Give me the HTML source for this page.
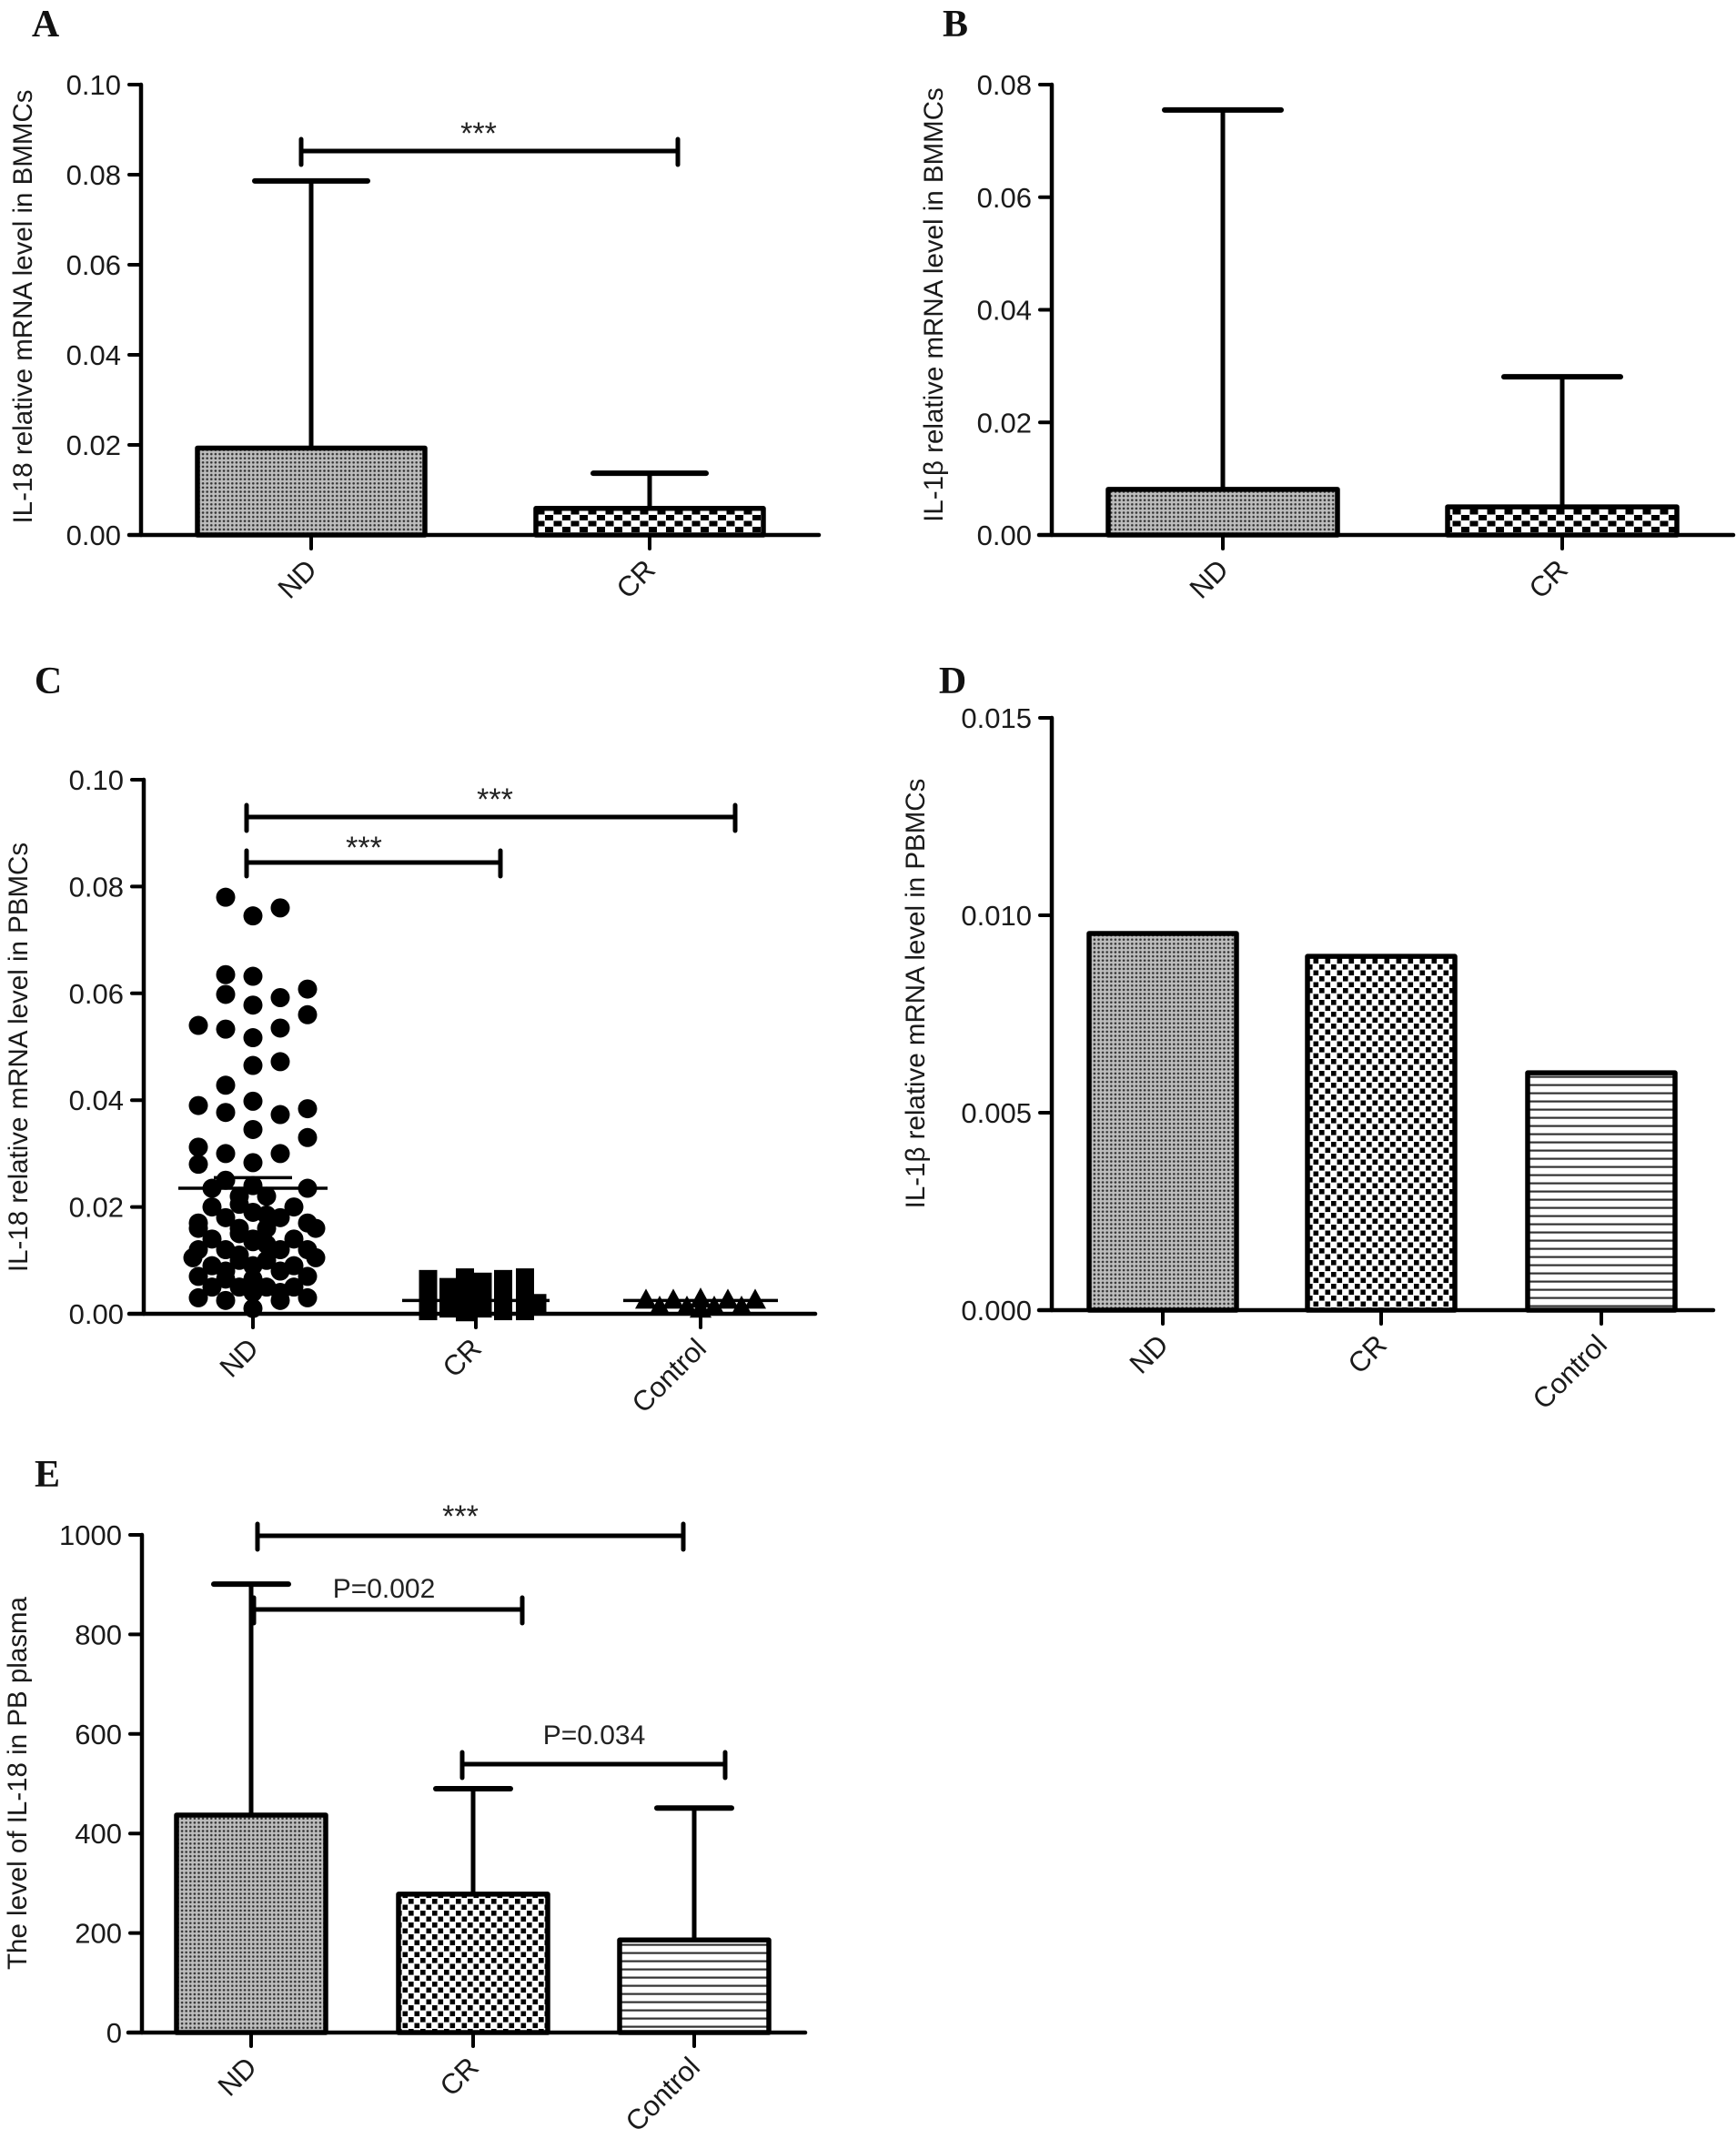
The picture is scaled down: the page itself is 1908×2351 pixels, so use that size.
<!DOCTYPE html>
<html><head><meta charset="utf-8"><style>
html,body{margin:0;padding:0;background:#fff;}
svg{display:block;font-family:"Liberation Sans",Arial,sans-serif;}
.tick{font-size:31px;fill:#1a1a1a;}
.ttl{font-size:29.5px;fill:#1a1a1a;}
.plet{font-family:"Liberation Serif",serif;font-weight:bold;font-size:42px;fill:#111;}
</style></head><body>
<svg id="fig" width="1908" height="2351" viewBox="0 0 1908 2351" xmlns="http://www.w3.org/2000/svg">
<defs>
<pattern id="pFine" width="4.6" height="4.6" patternUnits="userSpaceOnUse"><rect width="4.6" height="4.6" fill="#bdbdbd"/><circle cx="2.3" cy="2.3" r="1.3" fill="#333"/></pattern>
<pattern id="pCheck" width="13" height="13" patternUnits="userSpaceOnUse"><rect width="13" height="13" fill="#fff"/><rect x="0.5" y="0.5" width="5.6" height="5.6" fill="#000"/><rect x="7" y="7" width="5.6" height="5.6" fill="#000"/></pattern>
<pattern id="pCheckWide" width="19" height="13" patternUnits="userSpaceOnUse"><rect width="19" height="13" fill="#fff"/><rect x="0.5" y="0.5" width="9" height="6" fill="#000"/><rect x="10" y="7" width="9" height="6" fill="#000"/></pattern>
<pattern id="pStripe" width="9" height="9" patternUnits="userSpaceOnUse"><rect width="9" height="9" fill="#fff"/><rect y="3.5" width="9" height="2.2" fill="#333"/></pattern>
</defs>
<g id="root"></g>
</svg>
<script>
// ---- Panel A data ----
const aCats = ["ND", "CR"];
const aVals = [0.0193, 0.0059];
const aErr = [0.0786, 0.0137];
const aTicks = ["0.00", "0.02", "0.04", "0.06", "0.08", "0.10"];
// ---- Panel B data ----
const bCats = ["ND", "CR"];
const bVals = [0.0081, 0.0050];
const bErr = [0.0755, 0.0281];
const bTicks = ["0.00", "0.02", "0.04", "0.06", "0.08"];
// ---- Panel C data ----
const cCats = ["ND", "CR", "Control"];
const cTicks = ["0.00", "0.02", "0.04", "0.06", "0.08", "0.10"];
const cMeans = [0.0235, 0.0025, 0.0025];
const cSem = [0.002, 0.0003, 0.0002];
const ndVals = [0.078,0.0745,0.076,0.0635,0.0632,0.0598,0.0578,0.0592,0.0608,0.056,0.054,0.0533,0.0517,0.0535,0.0465,0.0472,0.0428,0.039,0.0398,0.0377,0.0373,0.0384,0.0345,0.033,0.0312,0.030,0.030,0.028,0.0283,
 0.025,0.024,0.022,0.022,0.020,0.020,0.0235,0.0235,0.017,0.018,0.019,0.018,0.017,0.016,0.016,0.016,0.016,0.014,0.014,0.014,0.012,0.012,0.012,0.012,0.0105,0.010,0.010,0.0105,0.009,0.009,0.009,0.008,0.008,0.007,0.0065,0.007,0.005,0.005,0.005,0.005,0.003,0.0025,0.004,0.0025,0.003,0.001,0.015,0.013,0.011,0.0185,0.0205,0.0065,0.004,0.0135];
const ndSlot = [-2,0,2,-2,0,-2,0,2,4,4,-4,-2,0,2,0,2,-2,-4,0,-2,2,4,0,4,-4,-2,2,-4,0,
 -2,0,-1,1,-3,3,-3,4,-4,-2,0,2,4,-4,-1,1,4.6,-3,0,3,-4,-2,2,4,-4.4,-1,1,4.6,-3,0,3,-2,2,-4,0,4,-3,-1,1,3,-4,-2,0,2,4,0,-1,1,-1,1,-1,-2,2,0];
const crVals = [0.0065,0.004,0.002,0.0005,0.005,0.002,0.001,0.0068,0.0045,0.002,0.0003,0.006,0.003,0.001,0.0065,0.004,0.002,0.0005,0.0068,0.004,0.0015,0.0005,0.002];
const crSlot = [-3.5,-3.5,-3.5,-3.5,-2,-2,-2,-0.8,-0.8,-0.8,-0.8,0.5,0.5,0.5,2,2,2,2,3.6,3.6,3.6,3.6,4.5];
const ctVals = [0.0025,0.0025,0.0027,0.0025,0.0025,0.0012,0.0012,0.0012,0.0012,0.0008];
const ctSlot = [-4,-2,0,2,4,-3,-1,1,3,0];
// ---- Panel D data ----
const dCats = ["ND", "CR", "Control"];
const dVals = [0.00954, 0.00896, 0.00601];
const dTicks = ["0.000", "0.005", "0.010", "0.015"];
// ---- Panel E data ----
const eCats = ["ND", "CR", "Control"];
const eVals = [437, 278, 186];
const eErr = [901, 490, 451];
const eTicks = ["0", "200", "400", "600", "800", "1000"];

const NS = "http://www.w3.org/2000/svg";
const root = document.getElementById("root");
function mk(tag, attrs, parent, text) {
  const e = document.createElementNS(NS, tag);
  for (const k in attrs) e.setAttribute(k, attrs[k]);
  if (text !== undefined) e.textContent = text;
  (parent || root).appendChild(e);
  return e;
}
function line(g, x1, y1, x2, y2, w) {
  return mk("line", {x1: x1, y1: y1, x2: x2, y2: y2, stroke: "#000", "stroke-width": w || 5, "stroke-linecap": "round"}, g);
}

function axes(cfg) {
  const g = mk("g", {});
  
  
  const y = v => cfg.y0 - (v / cfg.max) * (cfg.y0 - cfg.yTop);
  line(g, cfg.ax, cfg.yTop, cfg.ax, cfg.y0, 4.5);
  line(g, cfg.xStart, cfg.y0, cfg.xEnd, cfg.y0, 4.5);
  cfg.ticks.forEach((t, i) => {
    const v = parseFloat(t);
    const yy = y(v);
    line(g, cfg.ax - 13, yy, cfg.ax, yy, 4);
    const tx = mk("text", {x: cfg.ax - 22, y: yy + 11, "text-anchor": "end", class: "tick"}, g, t);
    
    
  });
  cfg.centers.forEach((cx, i) => {
    line(g, cx, cfg.y0, cx, cfg.y0 + 15, 4);
    const lx = cx + 8, ly = cfg.y0 + 40;
    const tx = mk("text", {x: lx, y: ly, "text-anchor": "end", class: "tick", transform: "rotate(-45 " + lx + " " + ly + ")"}, g, cfg.cats[i]);
    
    
  });
  const tt = mk("text", {x: cfg.titleX, y: cfg.titleY, "text-anchor": "middle", class: "ttl", transform: "rotate(-90 " + cfg.titleX + " " + cfg.titleY + ")"}, g);
  
  
  tt.textContent = cfg.title;
  const pl = mk("text", {x: cfg.letter[0], y: cfg.letter[1], "text-anchor": "middle", class: "plet"}, g, cfg.letterText);
  
  
  return y;
}

function bars(cfg, y, vals, errs, fills, halfW, capHalf) {
  vals.forEach((v, i) => {
    const cx = cfg.centers[i];
    if (errs) {
      const ey = y(errs[i]);
      const el = mk("line", {x1: cx, y1: y(v), x2: cx, y2: ey, stroke: "#000", "stroke-width": 5});
      
      
      const cap = mk("line", {x1: cx - capHalf, y1: ey, x2: cx + capHalf, y2: ey, stroke: "#000", "stroke-width": 6, "stroke-linecap": "round"});
      
      
    }
    const r = mk("rect", {x: cx - halfW, y: y(v), width: 2 * halfW, height: cfg.y0 - y(v), fill: "url(#" + fills[i] + ")", stroke: "#000", "stroke-width": 5.5, "stroke-linejoin": "round"});
    
    
  });
}

function bracket(x1, x2, yy, label, lx, ly, size) {
  const g = mk("g", {});
  
  
  line(g, x1, yy, x2, yy, 5);
  line(g, x1, yy - 13, x1, yy + 15, 5);
  line(g, x2, yy - 13, x2, yy + 15, 5);
  const t = mk("text", {x: lx, y: ly, "text-anchor": "middle", style: "font-size:" + size + "px;fill:#222"}, g, label);
  
  
}

// Panel A
const A = {name: "panel-a", ax: 155, yTop: 93, y0: 588, max: 0.10, xStart: 142, xEnd: 900, centers: [342, 714], cats: aCats, ticks: aTicks,
  titleX: 35, titleY: 337, title: "IL-18 relative mRNA level in BMMCs", letter: [50, 40], letterText: "A"};
const yA = axes(A);
bars(A, yA, aVals, aErr, ["pFine", "pCheckWide"], 125, 62);
bracket(331, 745, 166, "***", 526, 158, 34);

// Panel B
const B = {name: "panel-b", ax: 1156, yTop: 93, y0: 588, max: 0.08, xStart: 1142, xEnd: 1905, centers: [1344, 1717], cats: bCats, ticks: bTicks,
  titleX: 1036, titleY: 335, title: "IL-1\u03B2 relative mRNA level in BMMCs", letter: [1050, 40], letterText: "B"};
const yB = axes(B);
bars(B, yB, bVals, bErr, ["pFine", "pCheckWide"], 126, 64);

// Panel C
const C = {name: "panel-c", ax: 158, yTop: 857, y0: 1444, max: 0.10, xStart: 142, xEnd: 896, centers: [278, 523, 770], cats: cCats, ticks: cTicks,
  titleX: 30, titleY: 1162, title: "IL-18 relative mRNA level in PBMCs", letter: [53, 762], letterText: "C"};
const yC = axes(C);
ndVals.forEach((v, i) => {
  const d = mk("circle", {cx: C.centers[0] + ndSlot[i] * 15, cy: yC(v), r: 10.5, fill: "#000"});
  
  
});
crVals.forEach((v, i) => {
  const cx = C.centers[1] + crSlot[i] * 15, cy = yC(v);
  const s = mk("rect", {x: cx - 10, y: cy - 10, width: 20, height: 20, fill: "#000"});
  
  
});
ctVals.forEach((v, i) => {
  const cx = C.centers[2] + ctSlot[i] * 15, cy = yC(v);
  const t = mk("polygon", {points: (cx - 12) + "," + (cy + 9) + " " + (cx + 12) + "," + (cy + 9) + " " + cx + "," + (cy - 13), fill: "#000"});
  
  
});
const meanHalf = [82, 81, 85];
const semHalf = [43, 0, 0];
cMeans.forEach((m, i) => {
  const cx = C.centers[i];
  const ml = mk("line", {x1: cx - meanHalf[i], y1: yC(m), x2: cx + meanHalf[i], y2: yC(m), stroke: "#000", "stroke-width": 3.5});
  
  
  if (semHalf[i] > 0) {
    const sl = mk("line", {x1: cx - semHalf[i], y1: yC(m + cSem[i]), x2: cx + semHalf[i], y2: yC(m + cSem[i]), stroke: "#000", "stroke-width": 3.5});
    
    
  }
});
bracket(271, 808, 898, "***", 544, 890, 34);
bracket(271, 550, 948, "***", 400, 943, 34);

// Panel D
const D = {name: "panel-d", ax: 1156, yTop: 789, y0: 1440, max: 0.015, xStart: 1142, xEnd: 1883, centers: [1278, 1518, 1760], cats: dCats, ticks: dTicks,
  titleX: 1016, titleY: 1092, title: "IL-1\u03B2 relative mRNA level in PBMCs", letter: [1047, 762], letterText: "D"};
const yD = axes(D);
bars(D, yD, dVals, null, ["pFine", "pCheck", "pStripe"], 81, 0);

// Panel E
const E = {name: "panel-e", ax: 156, yTop: 1687, y0: 2234, max: 1000, xStart: 141, xEnd: 885, centers: [276, 520, 763], cats: eCats, ticks: eTicks,
  titleX: 29, titleY: 1960, title: "The level of IL-18 in PB plasma", letter: [52, 1634], letterText: "E"};
const yE = axes(E);
bars(E, yE, eVals, eErr, ["pFine", "pCheck", "pStripe"], 82, 41);
bracket(283, 751, 1688, "***", 506, 1678, 34);
bracket(279, 574, 1769, "P=0.002", 422, 1756, 30);
bracket(508, 797, 1939, "P=0.034", 653, 1917, 30);
</script>
</body></html>
